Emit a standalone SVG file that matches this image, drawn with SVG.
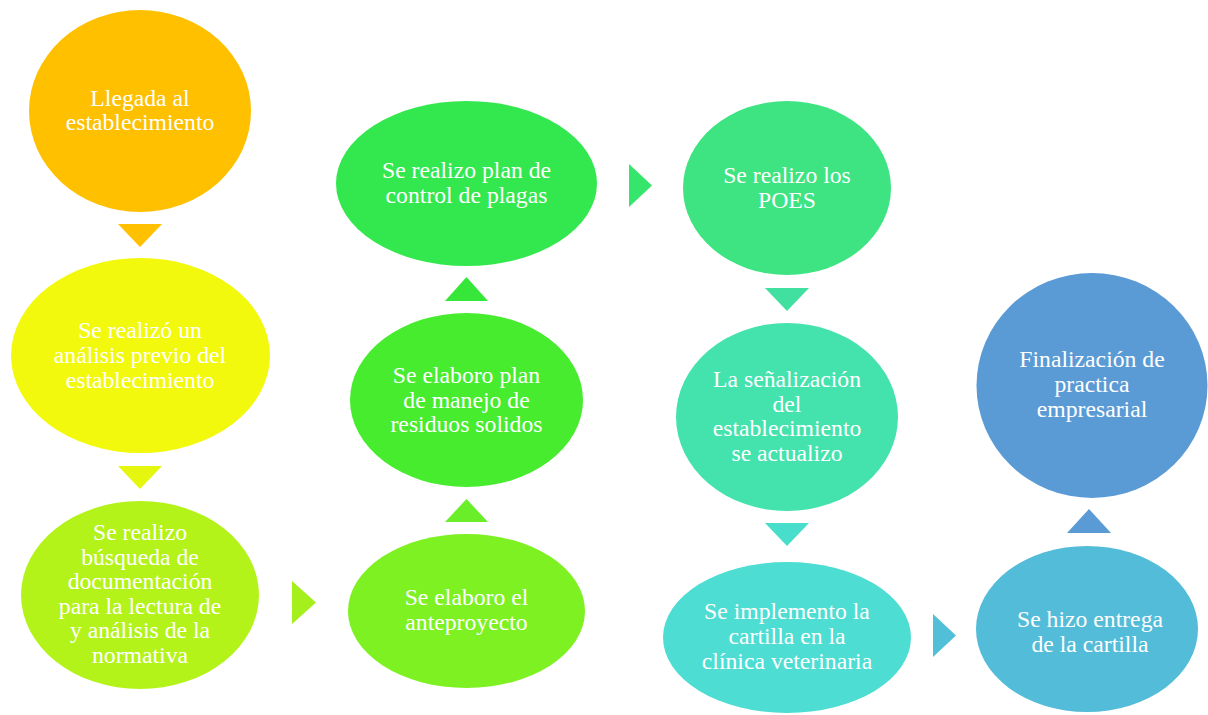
<svg xmlns="http://www.w3.org/2000/svg" width="1208" height="715" viewBox="0 0 1208 715">
<style>
text{font-family:'Liberation Serif','Times New Roman',Tinos,'DejaVu Serif',serif;font-size:23.7px;fill:#ffffff;text-anchor:middle}
</style>
<rect width="1208" height="715" fill="#ffffff"/>
<g id="connectors">
<polygon points="118,224 162,224 140,247" fill="#FFC000"/>
<polygon points="118,466 162,466 140,489" fill="#E6F70F"/>
<polygon points="292,581 292,624 316,602.5" fill="#A4EF1C"/>
<polygon points="445,522 488,522 466.5,499" fill="#6BEE2A"/>
<polygon points="445,301 488,301 466.5,277" fill="#36E73A"/>
<polygon points="629,164 629,207 652,185.5" fill="#35E56C"/>
<polygon points="765,288 809,288 787,311" fill="#42E0A0"/>
<polygon points="765,523 809,523 787,546" fill="#49DDCB"/>
<polygon points="933,614 933,657 956,635.5" fill="#52BFD8"/>
<polygon points="1067,533 1111,533 1089,509" fill="#5B9BD5"/>
</g>
<g id="n1">
<ellipse cx="140" cy="111" rx="111" ry="101" fill="#FFC000"/>
<text x="140" y="106" font-family="Liberation Serif, serif"><tspan x="140">Llegada al</tspan><tspan x="140" dy="24">establecimiento</tspan></text>
</g>
<g id="n2">
<ellipse cx="140.5" cy="355.5" rx="129.5" ry="97.5" fill="#F2F90D"/>
<text x="140" y="338"><tspan x="140">Se realizó un</tspan><tspan x="140" dy="25">análisis previo del</tspan><tspan x="140" dy="25">establecimiento</tspan></text>
</g>
<g id="n3">
<ellipse cx="140" cy="595" rx="119" ry="94" fill="#B3F31A"/>
<text x="140" y="540"><tspan x="140">Se realizo</tspan><tspan x="140" dy="24.6">búsqueda de</tspan><tspan x="140" dy="24.6">documentación</tspan><tspan x="140" dy="24.6">para la lectura de</tspan><tspan x="140" dy="24.6">y análisis de la</tspan><tspan x="140" dy="24.6">normativa</tspan></text>
</g>
<g id="n4">
<ellipse cx="466.5" cy="611" rx="118.5" ry="77" fill="#7DF122"/>
<text x="466.5" y="605"><tspan x="466.5">Se elaboro el</tspan><tspan x="466.5" dy="25">anteproyecto</tspan></text>
</g>
<g id="n5">
<ellipse cx="466.5" cy="400" rx="116.5" ry="87" fill="#47EC2F"/>
<text x="466.5" y="383"><tspan x="466.5">Se elaboro plan</tspan><tspan x="466.5" dy="24.5">de manejo de</tspan><tspan x="466.5" dy="24.5">residuos solidos</tspan></text>
</g>
<g id="n6">
<ellipse cx="466.5" cy="183.5" rx="130.5" ry="82.5" fill="#33E84E"/>
<text x="466.5" y="178"><tspan x="466.5">Se realizo plan de</tspan><tspan x="466.5" dy="25">control de plagas</tspan></text>
</g>
<g id="n7">
<ellipse cx="787" cy="188" rx="104" ry="87" fill="#3DE481"/>
<text x="787" y="183"><tspan x="787">Se realizo los</tspan><tspan x="787" dy="24.5">POES</tspan></text>
</g>
<g id="n8">
<ellipse cx="787" cy="417" rx="111" ry="94" fill="#44E2AD"/>
<text x="787" y="387"><tspan x="787">La señalización</tspan><tspan x="787" dy="24.7">del</tspan><tspan x="787" dy="24.7">establecimiento</tspan><tspan x="787" dy="24.7">se actualizo</tspan></text>
</g>
<g id="n9">
<ellipse cx="787" cy="637.5" rx="124" ry="75.5" fill="#4DDDD2"/>
<text x="787" y="619"><tspan x="787">Se implemento la</tspan><tspan x="787" dy="25">cartilla en la</tspan><tspan x="787" dy="25">clínica veterinaria</tspan></text>
</g>
<g id="n10">
<ellipse cx="1087" cy="629" rx="111" ry="83" fill="#53BCD8"/>
<text x="1090" y="627"><tspan x="1090">Se hizo entrega</tspan><tspan x="1090" dy="25">de la cartilla</tspan></text>
</g>
<g id="n11">
<ellipse cx="1092" cy="385.5" rx="115.5" ry="112.5" fill="#5B9BD5"/>
<text x="1092" y="367"><tspan x="1092">Finalización de</tspan><tspan x="1092" dy="25">practica</tspan><tspan x="1092" dy="25">empresarial</tspan></text>
</g>
</svg>
